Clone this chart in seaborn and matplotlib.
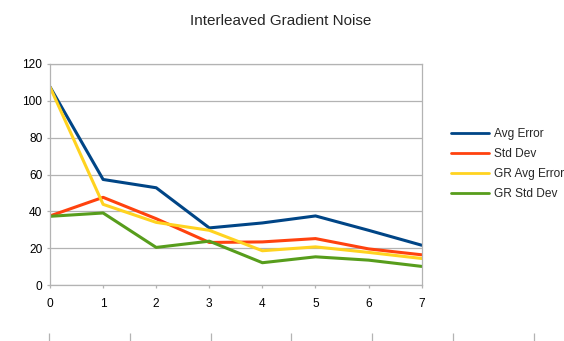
import numpy as np
import pandas as pd
import seaborn as sns
import matplotlib
matplotlib.use("Agg")
import matplotlib.pyplot as plt

steps = [0, 1, 2, 3, 4, 5, 6, 7]
avg_error = [107.6, 57.3, 52.8, 31.0, 33.7, 37.5, 29.7, 21.6]
std_dev = [37.5, 47.6, 36.0, 23.1, 23.4, 25.2, 19.6, 16.4]
gr_avg_error = [107.5, 43.8, 34.0, 29.7, 18.6, 20.7, 17.7, 14.4]
gr_std_dev = [37.3, 39.1, 20.4, 23.8, 12.1, 15.3, 13.5, 10.1]
series_names = ["Avg Error", "Std Dev", "GR Avg Error", "GR Std Dev"]
colors = ["#004586", "#ff420e", "#ffd320", "#579d1c"]
title = "Interleaved Gradient Noise"
y_ticks = [0, 20, 40, 60, 80, 100, 120]

df = pd.concat([
    pd.DataFrame({"x": steps, "value": vals, "series": name})
    for name, vals in zip(series_names, [avg_error, std_dev, gr_avg_error, gr_std_dev])
])

sns.set_theme(style="white")
plt.rcParams["font.family"] = ["Liberation Sans", "DejaVu Sans"]

W, H = 564, 341
fig = plt.figure(figsize=(W / 100, H / 100), dpi=100)
ax = fig.add_axes([50 / W, (H - 285) / H, (421.7 - 50) / W, (285 - 64) / H])

sns.lineplot(data=df, x="x", y="value", hue="series", hue_order=series_names,
             palette=colors, linewidth=2.2, ax=ax, legend=False)

ax.set_xlim(0, 7)
ax.set_ylim(0, 120)
ax.set_xticks(steps)
ax.set_yticks(y_ticks)
ax.set_xlabel("")
ax.set_ylabel("")
ax.yaxis.grid(True, color="#b3b3b3", linewidth=0.9)
ax.set_axisbelow(True)
for s in ax.spines.values():
    s.set_color("#b3b3b3")
    s.set_linewidth(0.9)
ax.tick_params(axis="both", which="major", direction="out", length=2.5, width=0.9,
               color="#b3b3b3", labelsize=8.6, labelcolor="black")
ax.tick_params(axis="x", pad=7)
ax.tick_params(axis="y", pad=3)
ax.tick_params(bottom=True, left=True)

handles = [plt.Line2D([], [], color=c, linewidth=2.0) for c in colors]
fig.legend(handles, series_names, loc="center left",
           bbox_to_anchor=(451.5 / W, 1 - 164 / H), frameon=False,
           borderaxespad=0, borderpad=0,
           fontsize=8.6, handlelength=3.1, handletextpad=0.5, labelspacing=0.68)

fig.text(280.8 / W, 1 - 21 / H, title, ha="center", va="center", fontsize=11)

# decorative tick marks at the bottom edge
ax2 = fig.add_axes([48.7 / W, 0, 6 * 80.9 / W, 0.001])
ax2.set_xlim(0, 6)
ax2.set_xticks(range(7))
ax2.set_yticks([])
ax2.set_xticklabels([])
for s in ax2.spines.values():
    s.set_visible(False)
ax2.patch.set_alpha(0)
ax2.tick_params(axis="x", direction="in", length=6, width=0.9, color="#b3b3b3", bottom=True)

fig.savefig("out.png", dpi=100)
